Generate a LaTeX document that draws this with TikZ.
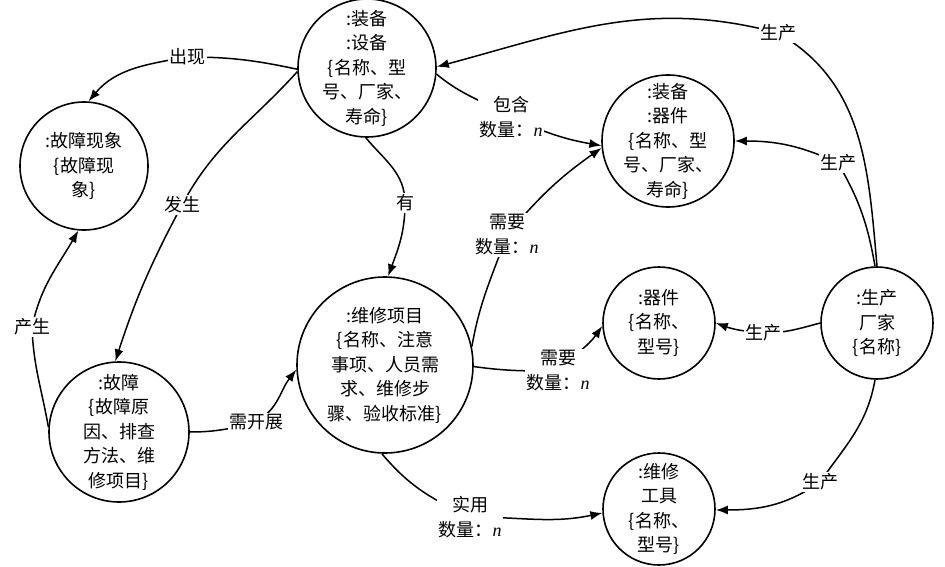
\documentclass[tikz,border=0pt]{standalone}
\usepackage{fontspec}
\setmainfont{Liberation Serif}
\newfontfamily\cjk{Noto Sans CJK SC}
\usetikzlibrary{arrows.meta}
\newcommand\myn{{\rmfamily\itshape n}}
\begin{document}
\begin{tikzpicture}[x=1pt,y=1pt,
  ent/.style={circle,draw,line width=1.6pt,inner sep=0pt},
  txt/.style={font=\cjk\fontsize{18}{24.5}\selectfont,align=center,inner sep=0pt},
  lbl/.style={font=\cjk\fontsize{18}{25}\selectfont,align=center,fill=white,inner sep=1.5pt},
  rel/.style={line width=1.5pt,-{Latex[length=12pt,width=9pt]}}]
\useasboundingbox (0,0) rectangle (945,-567);

% entities
\node[ent,minimum size=138pt] (A) at (367,-68) {};
\node[txt] (At) at (A) {:装备\\:设备\\\{名称、型\\号、厂家、\\寿命\}};
\node[ent,minimum size=128pt] (B) at (84,-166) {};
\node[txt] (Bt) at (B) {:故障现象\\\{故障现\\象\}};
\node[ent,minimum size=132pt] (C) at (668,-141) {};
\node[txt] (Ct) at (C) {:装备\\:器件\\\{名称、型\\号、厂家、\\寿命\}};
\node[ent,minimum size=140pt] (D) at (119,-432) {};
\node[txt] (Dt) at (D) {:故障\\\{故障原\\因、排查\\方法、维\\修项目\}};
\node[ent,minimum size=176pt] (E) at (385,-365) {};
\node[txt] (Et) at (E) {:维修项目\\\{名称、注意\\事项、人员需\\求、维修步\\骤、验收标准\}};
\node[ent,minimum size=112pt] (F) at (659,-323) {};
\node[txt] (Ft) at (F) {:器件\\\{名称、\\型号\}};
\node[ent,minimum size=112pt] (G) at (877,-323) {};
\node[txt] (Gt) at (G) {:生产\\厂家\\\{名称\}};
\node[ent,minimum size=112pt] (H) at (659,-509) {};
\node[txt] (Ht) at (H) {:维修\\工具\\\{名称、\\型号\}};

% label points
\coordinate (l1) at (187,-57);
\coordinate (l2) at (182,-205);
\coordinate (l3) at (32,-327);
\coordinate (l4) at (405,-203);
\coordinate (l5) at (256,-422);
\coordinate (l6) at (511,-117);
\coordinate (l7) at (507,-235);
\coordinate (l8) at (558,-371);
\coordinate (l9) at (470,-517);
\coordinate (l10) at (778,-33);
\coordinate (l11) at (838,-163);
\coordinate (l12) at (763,-333);
\coordinate (l13) at (820,-482);

% relations
\draw[rel] (A.181) to[out=168,in=0] (l1) to[out=190,in=50] (B.86);
\draw[rel] (A.183) to[out=228,in=62] (l2) to[out=242,in=72] (D.93);
\draw[rel] (D.176) to[out=100,in=-88] (l3) to[out=78,in=240] (B.265);
\draw[rel] (A.269) to[out=-50,in=90] (l4) to[out=-90,in=70] (E.88);
\draw[rel] (D.0) to[out=0,in=195] (l5) to[out=30,in=232] (E.183);
\draw[rel] (A.355) to[out=-40,in=150] (l6) to[out=-25,in=170] (C.184);
\draw[rel] (E.12) to[out=80,in=-110] (l7) to[out=50,in=215] (C.186);
\draw[rel] (E.359) to[out=-8,in=180] (l8) to[out=45,in=235] (F.183);
\draw[rel] (E.268) to[out=-50,in=155] (l9) to[out=0,in=192] (H.184);
\draw[rel] (G.90) to[out=95,in=-30] (l10) to[out=165,in=15] (A.1);
\draw[rel] (G.92) to[out=100,in=-60] (l11) to[out=155,in=0] (C.0);
\draw[rel] (G.180) to[out=195,in=0] (l12) to[out=175,in=-20] (F.0);
\draw[rel] (G.268) to[out=-100,in=55] (l13) to[out=215,in=0] (H.359);

% labels
\node[lbl] (t1) at (l1) {出现};
\node[lbl] (t2) at (l2) {发生};
\node[lbl] (t3) at (l3) {产生};
\node[lbl] (t4) at (l4) {有};
\node[lbl] (t5) at (l5) {需开展};
\node[lbl] (t6) at (l6) {包含\\数量：\myn};
\node[lbl] (t7) at (l7) {需要\\数量：\myn};
\node[lbl] (t8) at (l8) {需要\\数量：\myn};
\node[lbl] (t9) at (l9) {实用\\数量：\myn};
\node[lbl] (t10) at (l10) {生产};
\node[lbl] (t11) at (l11) {生产};
\node[lbl] (t12) at (l12) {生产};
\node[lbl] (t13) at (l13) {生产};
\end{tikzpicture}
\end{document}
